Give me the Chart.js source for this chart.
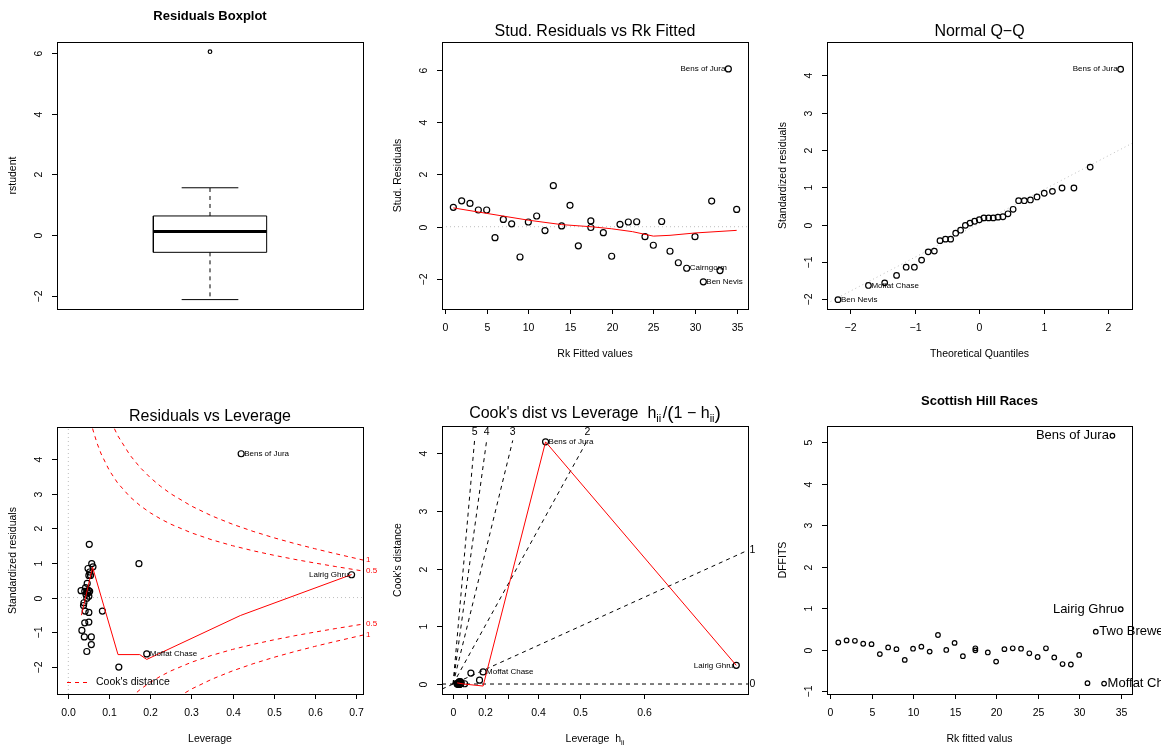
<!DOCTYPE html>
<html>
<head>
<meta charset="utf-8">
<script src="https://cdn.jsdelivr.net/npm/chart.js@4.4.1/dist/chart.umd.min.js"></script>
<style>
html, body { margin: 0; padding: 0; background: #fff; }
#wrap { position: relative; width: 1172px; height: 748px; overflow: hidden; }
canvas { position: absolute; }
</style>
</head>
<body>
<div id="wrap">
  <canvas id="p1" width="390" height="374" style="left:0;top:0"></canvas>
  <canvas id="p2" width="390" height="374" style="left:390px;top:0"></canvas>
  <canvas id="p3" width="391" height="374" style="left:770px;top:0"></canvas>
  <canvas id="p4" width="390" height="374" style="left:0;top:374px"></canvas>
  <canvas id="p5" width="390" height="374" style="left:390px;top:374px"></canvas>
  <canvas id="p6" width="391" height="374" style="left:770px;top:374px"></canvas>
</div>
<script>
// ---------- data ----------

// boxplot of rstudent: lower whisker, Q1, median, Q3, upper whisker
const rstudentBox = [-2.13, -0.57, 0.12, 0.63, 1.56];
const rstudentOutliers = [6.05];

// rank of fitted values (ties at 17.5)
const rkFitted = [1, 2, 3, 4, 5, 6, 7, 8, 9, 10, 11, 12, 13, 14, 15, 16, 17.5, 17.5,
  19, 20, 21, 22, 23, 24, 25, 26, 27, 28, 29, 30, 31, 32, 33, 34, 35];
const studResid = [0.74, 0.99, 0.89, 0.64, 0.64, -0.42, 0.28, 0.11, -1.16, 0.18, 0.41, -0.15,
  1.57, 0.03, 0.82, -0.73, 0.22, -0.03, -0.23, -1.13, 0.09, 0.18, 0.19, -0.38, -0.71, 0.20,
  -0.94, -1.38, -1.59, -0.38, -2.11, 0.98, -1.68, 6.04, 0.66];
const studLowessX = [1, 5, 10, 14, 17.5, 20, 22.5, 25, 27, 30, 35];
const studLowessY = [0.72, 0.51, 0.25, 0.08, 0.0, -0.08, -0.19, -0.36, -0.33, -0.24, -0.14];
const studLabelIdx = [33, 28, 30];
const studLabelText = ['Bens of Jura', 'Cairngorm', 'Ben Nevis'];

// normal Q-Q
const qqTheo = [-2.19, -1.718, -1.466, -1.282, -1.133, -1.006, -0.894, -0.792, -0.697, -0.609,
  -0.524, -0.444, -0.366, -0.29, -0.216, -0.144, -0.072, 0, 0.072, 0.144, 0.216, 0.29, 0.366,
  0.444, 0.524, 0.609, 0.697, 0.792, 0.894, 1.006, 1.133, 1.282, 1.466, 1.718, 2.19];
const stdResid = [-2.01, -1.63, -1.56, -1.36, -1.14, -1.14, -0.95, -0.73, -0.71, -0.43, -0.39,
  -0.39, -0.23, -0.15, -0.02, 0.04, 0.09, 0.13, 0.18, 0.18, 0.18, 0.20, 0.21, 0.29, 0.41, 0.64,
  0.64, 0.66, 0.74, 0.84, 0.89, 0.98, 0.98, 1.54, 4.16];
const qqLineX = [-2.36, 2.37];
const qqLineY = [-2.11, 2.18];
const qqLabelIdx = [34, 1, 0];
const qqLabelText = ['Bens of Jura', 'Moffat Chase', 'Ben Nevis'];

// leverage (same order as stdResid)
const leverage = [0.123, 0.191, 0.045, 0.056, 0.039, 0.056, 0.033, 0.040, 0.050, 0.050, 0.041,
  0.083, 0.037, 0.038, 0.045, 0.050, 0.043, 0.048, 0.040, 0.052, 0.046, 0.031, 0.049, 0.042,
  0.046, 0.054, 0.050, 0.690, 0.052, 0.048, 0.060, 0.057, 0.172, 0.051, 0.421];
const levSmoothX = [0.032, 0.059, 0.121, 0.174, 0.191, 0.419, 0.690];
const levSmoothY = [-0.51, 0.88, -1.65, -1.65, -1.79, -0.52, 0.665];
const levLabelIdx = [34, 27, 1];
const levLabelText = ['Bens of Jura', 'Lairig Ghru', 'Moffat Chase'];
// Cook's distance contours (std. residual at given leverage)
const cookGridH = [0.05, 0.06, 0.07, 0.08, 0.1, 0.12, 0.15, 0.175, 0.2, 0.225, 0.25, 0.3, 0.35,
  0.4, 0.45, 0.5, 0.55, 0.6, 0.65, 0.7, 0.718];
const cookHalfR = [5.339, 4.848, 4.464, 4.153, 3.674, 3.317, 2.915, 2.659, 2.449, 2.273, 2.121,
  1.871, 1.669, 1.5, 1.354, 1.225, 1.108, 1.0, 0.899, 0.802, 0.768];
const cookOneR = [7.55, 6.856, 6.313, 5.874, 5.196, 4.690, 4.123, 3.761, 3.464, 3.215, 3.0,
  2.646, 2.360, 2.121, 1.915, 1.732, 1.567, 1.414, 1.271, 1.134, 1.085];

// Cook's distance vs h/(1-h)
const levRatio = [0.140, 0.236, 0.047, 0.059, 0.041, 0.059, 0.034, 0.042, 0.053, 0.053, 0.043,
  0.091, 0.038, 0.040, 0.047, 0.053, 0.045, 0.050, 0.042, 0.055, 0.048, 0.032, 0.052, 0.044,
  0.048, 0.057, 0.053, 2.226, 0.055, 0.050, 0.064, 0.060, 0.208, 0.054, 0.727];
const cookD = [0.189, 0.209, 0.038, 0.037, 0.018, 0.026, 0.010, 0.007, 0.009, 0.003, 0.002,
  0.005, 0.001, 0.000, 0.000, 0.000, 0.000, 0.000, 0.000, 0.001, 0.001, 0.000, 0.001, 0.001,
  0.003, 0.008, 0.007, 0.323, 0.010, 0.012, 0.017, 0.019, 0.067, 0.043, 4.195];
const cookSmoothX = [0.032, 0.084, 0.236, 0.727, 2.226];
const cookSmoothY = [0.02, 0.0, -0.035, 4.195, 0.323];
const cookRefTopLabels = ['2', '3', '4', '5'];
const cookRefTopX = [1.055, 0.469, 0.264, 0.169];
const cookRefTopY = 4.22;
const cookRefLabelY = 4.37;
const cookDiagX = [-0.087, 2.318];
const cookDiagY = [-0.087, 2.318];
const levTickPos = [0, 0.111, 0.25, 0.429, 0.667, 1.0, 1.5];
const levTickText = ['0', '', '0.2', '', '0.4', '0.5', '0.6'];

// DFFITS vs rank of fitted values
const dffits = [0.18, 0.23, 0.22, 0.15, 0.14, -0.10, 0.06, 0.02, -0.24, 0.03, 0.08, -0.04, 0.36,
  0.00, 0.17, -0.15, 0.04, -0.01, -0.06, -0.28, 0.02, 0.04, 0.03, -0.08, -0.17, 0.04, -0.18,
  -0.34, -0.35, -0.12, -0.80, 0.44, -0.81, 5.16, 0.98];
const dfLabelIdx = [33, 34, 31, 32];
const dfLabelText = ['Bens of Jura', 'Lairig Ghru', 'Two Breweries', 'Moffat Chase'];

// tick values
const rankTicks = [0, 5, 10, 15, 20, 25, 30, 35];
const levTicks = [0, 0.1, 0.2, 0.3, 0.4, 0.5, 0.6, 0.7];
const levTickLabels = ['0.0', '0.1', '0.2', '0.3', '0.4', '0.5', '0.6', '0.7'];

// ---------- drawing helpers ----------
const FONT = '"Liberation Sans", Arial, Helvetica, sans-serif';
const RED = '#ff0000';
const GREY = '#bebebe';

function minus(v) { return String(v).replace('-', '\u2212'); }
function pts(xv, yv) { return xv.map((x, i) => ({ x: x, y: yv[i] })); }

function line(ctx, x1, y1, x2, y2) {
  ctx.beginPath(); ctx.moveTo(x1, y1); ctx.lineTo(x2, y2); ctx.stroke();
}
function rotText(ctx, t, x, y) {
  ctx.save();
  ctx.translate(x, y);
  ctx.rotate(-Math.PI / 2);
  ctx.textAlign = 'center';
  ctx.textBaseline = 'middle';
  ctx.fillText(t, 0, 0);
  ctx.restore();
}
// text made of pieces (for subscripts), centred on cx
function richText(ctx, segs, cx, base) {
  let w = 0;
  segs.forEach(g => {
    ctx.font = (g.b ? 'bold ' : '') + g.s + 'px ' + FONT;
    g.w = ctx.measureText(g.t).width;
    w += g.w;
  });
  let x = cx - w / 2;
  ctx.textAlign = 'left';
  ctx.textBaseline = 'alphabetic';
  segs.forEach(g => {
    ctx.font = (g.b ? 'bold ' : '') + g.s + 'px ' + FONT;
    ctx.fillText(g.t, x, base + (g.dy || 0));
    x += g.w;
  });
}
function makeLabels(xv, yv, idx, texts, sides, size, off) {
  return idx.map((k, j) => ({ x: xv[k], y: yv[k], text: texts[j], side: sides[j], size: size, off: off }));
}

function circles(data, r) {
  return { data: data, showLine: false, pointRadius: r, pointBorderWidth: 1.2,
    pointBorderColor: '#000', pointBackgroundColor: 'rgba(0,0,0,0)', pointStyle: 'circle' };
}
function path(data, color, width, dash) {
  return { data: data, showLine: true, pointRadius: 0, borderColor: color, borderWidth: width,
    borderDash: dash || [], fill: false, tension: 0 };
}

// R-like frame, axes, titles and point labels
function rPlot(spec) {
  return {
    id: 'rPlot',
    afterDatasetsDraw(chart) {
      const ctx = chart.ctx, a = chart.chartArea;
      const xs = chart.scales.x, ys = chart.scales.y;
      ctx.save();
      ctx.setLineDash([]);
      ctx.lineWidth = 1;
      ctx.strokeStyle = '#000';
      ctx.fillStyle = '#000';
      ctx.strokeRect(Math.round(a.left) + 0.5, Math.round(a.top) + 0.5,
        Math.round(a.right - a.left), Math.round(a.bottom - a.top));

      ctx.font = '10.5px ' + FONT;
      ctx.textAlign = 'center';
      ctx.textBaseline = 'middle';
      (spec.xTicks || []).forEach((v, i) => {
        const px = Math.round(xs.getPixelForValue(v)) + 0.5;
        line(ctx, px, a.bottom, px, a.bottom + 5);
        const t = spec.xTickLabels ? spec.xTickLabels[i] : minus(v);
        if (t) ctx.fillText(t, px, a.bottom + 19.5);
      });
      (spec.yTicks || []).forEach(v => {
        const py = Math.round(ys.getPixelForValue(v)) + 0.5;
        line(ctx, a.left - 5, py, a.left, py);
        rotText(ctx, minus(v), a.left - 17.5, py);
      });

      const cx = (a.left + a.right) / 2, cy = (a.top + a.bottom) / 2;
      if (spec.xTitle) richText(ctx, spec.xTitle, cx, a.bottom + 48);
      if (spec.yTitle) { ctx.font = '10.5px ' + FONT; rotText(ctx, spec.yTitle, a.left - 44, cy); }
      richText(ctx, spec.title, cx, spec.titleY);

      (spec.labels || []).forEach(l => {
        const px = xs.getPixelForValue(l.x), py = ys.getPixelForValue(l.y);
        ctx.font = l.size + 'px ' + FONT;
        ctx.fillStyle = '#000';
        ctx.textBaseline = 'middle';
        ctx.textAlign = l.side === 'left' ? 'right' : 'left';
        ctx.fillText(l.text, px + (l.side === 'left' ? -l.off : l.off), py);
      });
      if (spec.extra) spec.extra(ctx, a, xs, ys);
      ctx.restore();
    }
  };
}

function rChart(id, spec, datasets) {
  return new Chart(document.getElementById(id), {
    type: 'scatter',
    data: { datasets: datasets },
    options: {
      responsive: false,
      animation: false,
      events: [],
      devicePixelRatio: 1,
      layout: { padding: spec.pad },
      plugins: { legend: { display: false }, tooltip: { enabled: false } },
      scales: {
        x: { type: 'linear', display: false, min: spec.xlim[0], max: spec.xlim[1] },
        y: { type: 'linear', display: false, min: spec.ylim[0], max: spec.ylim[1] }
      }
    },
    plugins: [rPlot(spec)]
  });
}

// ---------- 1. Residuals boxplot ----------
const boxHalf = 0.2, capHalf = 0.1;
const [bLo, bQ1, bMed, bQ3, bHi] = rstudentBox;
rChart('p1', {
  pad: { left: 57, top: 42, right: 27, bottom: 65 },
  xlim: [0.46, 1.54], ylim: [-2.44, 6.37],
  yTicks: [-2, 0, 2, 4, 6],
  yTitle: 'rstudent',
  title: [{ t: 'Residuals Boxplot', s: 13, b: true }], titleY: 19.5
}, [
  path([{ x: 1 - boxHalf, y: bMed }, { x: 1 + boxHalf, y: bMed }], '#000', 3),
  path([{ x: 1 - boxHalf, y: bQ1 }, { x: 1 + boxHalf, y: bQ1 }, { x: 1 + boxHalf, y: bQ3 },
        { x: 1 - boxHalf, y: bQ3 }, { x: 1 - boxHalf, y: bQ1 }], '#000', 1),
  path([{ x: 1, y: bQ3 }, { x: 1, y: bHi }], '#000', 1, [4, 4]),
  path([{ x: 1, y: bQ1 }, { x: 1, y: bLo }], '#000', 1, [4, 4]),
  path([{ x: 1 - capHalf, y: bHi }, { x: 1 + capHalf, y: bHi }], '#000', 1),
  path([{ x: 1 - capHalf, y: bLo }, { x: 1 + capHalf, y: bLo }], '#000', 1),
  circles(rstudentOutliers.map(v => ({ x: 1, y: v })), 1.8)
]);

// ---------- 2. Stud. residuals vs rank fitted ----------
const rkLim = [-0.36, 36.36];
rChart('p2', {
  pad: { left: 52, top: 42, right: 32, bottom: 65 },
  xlim: rkLim, ylim: [-3.15, 7.07],
  xTicks: rankTicks, yTicks: [-2, 0, 2, 4, 6],
  xTitle: [{ t: 'Rk Fitted values', s: 10.5 }], yTitle: 'Stud. Residuals',
  title: [{ t: 'Stud. Residuals vs Rk Fitted', s: 16 }], titleY: 36,
  labels: makeLabels(rkFitted, studResid, studLabelIdx, studLabelText, ['left', 'right', 'right'], 8, 3)
}, [
  path(pts(studLowessX, studLowessY), RED, 1),
  circles(pts(rkFitted, studResid), 3),
  path([{ x: rkLim[0], y: 0 }, { x: rkLim[1], y: 0 }], GREY, 1, [1, 3])
]);

// ---------- 3. Normal Q-Q ----------
rChart('p3', {
  pad: { left: 57, top: 42, right: 29, bottom: 65 },
  xlim: [-2.36, 2.366], ylim: [-2.26, 4.89],
  xTicks: [-2, -1, 0, 1, 2], yTicks: [-2, -1, 0, 1, 2, 3, 4],
  xTitle: [{ t: 'Theoretical Quantiles', s: 10.5 }], yTitle: 'Standardized residuals',
  title: [{ t: 'Normal Q\u2212Q', s: 16 }], titleY: 36,
  labels: makeLabels(qqTheo, stdResid, qqLabelIdx, qqLabelText, ['left', 'right', 'right'], 8, 3)
}, [
  circles(pts(qqTheo, stdResid), 2.8),
  path(pts(qqLineX, qqLineY), GREY, 1, [1, 3])
]);

// ---------- 4. Residuals vs leverage ----------
const levLim = [-0.0276, 0.7178], levYLim = [-2.79, 4.934];
rChart('p4', {
  pad: { left: 57, top: 53, right: 27, bottom: 54 },
  xlim: levLim, ylim: levYLim,
  xTicks: levTicks, xTickLabels: levTickLabels, yTicks: [-2, -1, 0, 1, 2, 3, 4],
  xTitle: [{ t: 'Leverage', s: 10.5 }], yTitle: 'Standardized residuals',
  title: [{ t: 'Residuals vs Leverage', s: 16 }], titleY: 47,
  labels: makeLabels(leverage, stdResid, levLabelIdx, levLabelText, ['right', 'left', 'right'], 8, 3),
  extra(ctx, a, xs, ys) {
    const last = cookGridH.length - 1;
    ctx.font = '8px ' + FONT;
    ctx.fillStyle = RED;
    ctx.textAlign = 'left';
    ctx.textBaseline = 'middle';
    [[cookOneR[last], '1'], [cookHalfR[last], '0.5'], [-cookHalfR[last], '0.5'], [-cookOneR[last], '1']]
      .forEach(([v, t]) => ctx.fillText(t, a.right + 3, ys.getPixelForValue(v)));
    // legend
    const ly = Math.round(a.bottom - 12) + 0.5;
    ctx.strokeStyle = RED;
    ctx.setLineDash([4, 4]);
    line(ctx, a.left + 10, ly, a.left + 31, ly);
    ctx.setLineDash([]);
    ctx.fillStyle = '#000';
    ctx.font = '10.5px ' + FONT;
    ctx.fillText("Cook's distance", a.left + 39, ly);
  }
}, [
  path(pts(levSmoothX, levSmoothY), RED, 1),
  circles(pts(leverage, stdResid), 3),
  path(pts(cookGridH, cookOneR), RED, 1, [4, 4]),
  path(pts(cookGridH, cookHalfR), RED, 1, [4, 4]),
  path(pts(cookGridH, cookHalfR.map(v => -v)), RED, 1, [4, 4]),
  path(pts(cookGridH, cookOneR.map(v => -v)), RED, 1, [4, 4]),
  path([{ x: levLim[0], y: 0 }, { x: levLim[1], y: 0 }], GREY, 1, [1, 3]),
  path([{ x: 0, y: levYLim[0] }, { x: 0, y: levYLim[1] }], GREY, 1, [1, 3])
]);

// ---------- 5. Cook's distance vs leverage h/(1-h) ----------
const ratioLim = [-0.087, 2.318];
const refLines = cookRefTopX.map(x => path([{ x: 0, y: 0 }, { x: x, y: cookRefTopY }], '#000', 1, [4, 4]));
rChart('p5', {
  pad: { left: 52, top: 52, right: 32, bottom: 54 },
  xlim: ratioLim, ylim: [-0.173, 4.47],
  xTicks: levTickPos, xTickLabels: levTickText, yTicks: [0, 1, 2, 3, 4],
  xTitle: [{ t: 'Leverage  h', s: 10.5 }, { t: 'ii', s: 7.5, dy: 3 }], yTitle: "Cook's distance",
  title: [{ t: "Cook's dist vs Leverage  h", s: 16 }, { t: 'ii', s: 11, dy: 4 }, { t: ' ', s: 6 },
          { t: '/', s: 16 }, { t: '(', s: 19, dy: 1 }, { t: '1 \u2212 h', s: 16 },
          { t: 'ii', s: 11, dy: 4 }, { t: ')', s: 19, dy: 1 }], titleY: 43.5,
  labels: makeLabels(levRatio, cookD, levLabelIdx, levLabelText, ['right', 'left', 'right'], 8, 3),
  extra(ctx, a, xs, ys) {
    ctx.font = '10.5px ' + FONT;
    ctx.fillStyle = '#000';
    ctx.textBaseline = 'middle';
    ctx.textAlign = 'center';
    cookRefTopX.forEach((x, i) =>
      ctx.fillText(cookRefTopLabels[i], xs.getPixelForValue(x), ys.getPixelForValue(cookRefLabelY)));
    ctx.textAlign = 'left';
    ctx.fillText('1', a.right + 1.5, ys.getPixelForValue(cookDiagY[1]));
    ctx.fillText('0', a.right + 1.5, ys.getPixelForValue(0));
  }
}, [
  path(pts(cookSmoothX, cookSmoothY), RED, 1),
  circles(pts(levRatio, cookD), 3),
  ...refLines,
  path(pts(cookDiagX, cookDiagY), '#000', 1, [4, 4]),
  path([{ x: ratioLim[0], y: 0 }, { x: ratioLim[1], y: 0 }], '#000', 1, [4, 4])
]);

// ---------- 6. DFFITS ----------
rChart('p6', {
  pad: { left: 57, top: 52, right: 29, bottom: 54 },
  xlim: rkLim, ylim: [-1.061, 5.395],
  xTicks: rankTicks, yTicks: [-1, 0, 1, 2, 3, 4, 5],
  xTitle: [{ t: 'Rk fitted valus', s: 10.5 }], yTitle: 'DFFITS',
  title: [{ t: 'Scottish Hill Races', s: 13, b: true }], titleY: 30.5,
  labels: makeLabels(rkFitted, dffits, dfLabelIdx, dfLabelText, ['left', 'left', 'right', 'right'], 13, 3.5)
}, [
  circles(pts(rkFitted, dffits), 2.3)
]);
</script>
</body>
</html>
